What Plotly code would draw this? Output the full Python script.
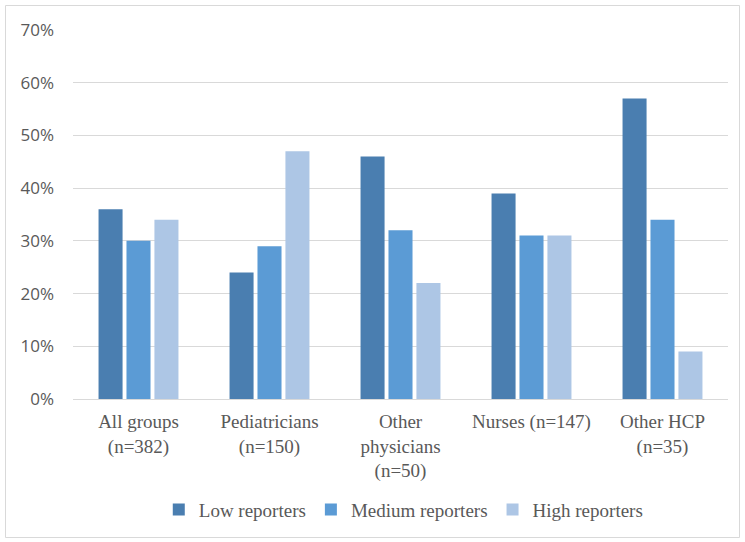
import plotly.graph_objects as go

categories = ["All groups<br>(n=382)", "Pediatricians<br>(n=150)",
              "Other<br>physicians<br>(n=50)", "Nurses (n=147)",
              "Other HCP<br>(n=35)"]
low = [0.36, 0.24, 0.46, 0.39, 0.57]
medium = [0.30, 0.29, 0.32, 0.31, 0.34]
high = [0.34, 0.47, 0.22, 0.31, 0.09]

series = [("Low reporters", low, "#4A7EB0"),
          ("Medium reporters", medium, "#5B9BD5"),
          ("High reporters", high, "#ADC6E5")]

fig = go.Figure()
for name, vals, color in series:
    fig.add_trace(go.Bar(x=categories, y=vals, name=name,
                         marker=dict(color=color, line=dict(width=0))))

W, H = 745, 542
ml, mr, mt, mb = 73, 17, 30, 143
pw, ph = W - ml - mr, H - mt - mb

# outer chart border drawn in paper coordinates
fig.add_shape(type="rect", xref="paper", yref="paper",
              x0=(5.5 - ml) / pw, x1=(739.5 - ml) / pw,
              y0=(H - 537.5 - mb) / ph, y1=(H - 5.5 - mb) / ph,
              line=dict(color="#D9D9D9", width=1), layer="below")

fig.update_layout(
    width=W, height=H,
    margin=dict(l=ml, r=mr, t=mt, b=mb),
    paper_bgcolor="white", plot_bgcolor="white",
    barmode="group", bargap=0.36, bargroupgap=0.14,
    showlegend=True,
    legend=dict(orientation="h", x=0.505, xanchor="center", y=-0.30,
                yanchor="middle",
                font=dict(family="Liberation Serif", size=19, color="#595959"),
                itemwidth=30, traceorder="normal"),
    xaxis=dict(showgrid=False, showline=True, linecolor="#D9D9D9",
               linewidth=1, ticks="", ticklabelstandoff=5,
               tickfont=dict(family="Liberation Serif", size=19, color="#595959")),
    yaxis=dict(range=[0, 0.7], dtick=0.1, tickformat=".0%",
               showgrid=True, gridcolor="#D9D9D9", gridwidth=1,
               zeroline=False, showline=False, ticks="",
               ticklabelstandoff=18,
               tickfont=dict(family="Open Sans", size=17, color="#595959")),
)

fig.write_html("out.html")
